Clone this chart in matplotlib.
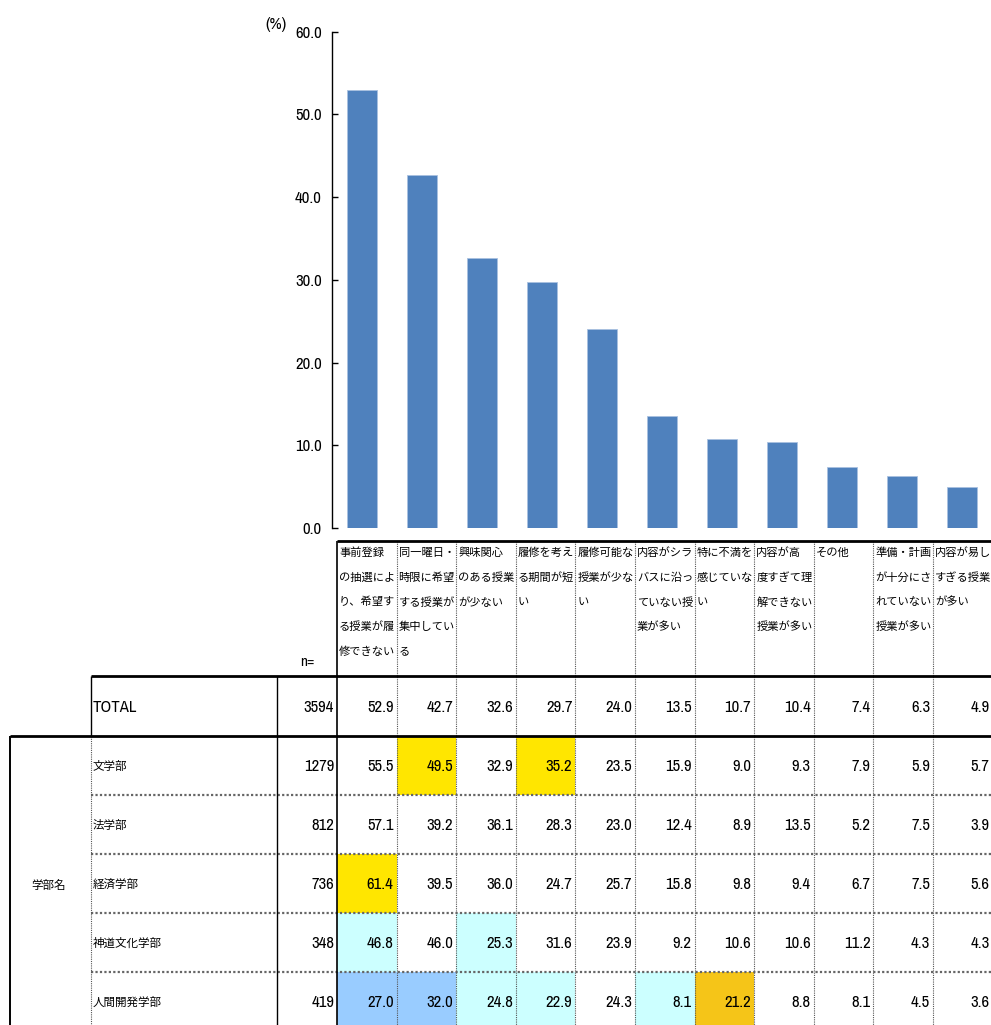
import matplotlib
matplotlib.use('Agg')
import matplotlib.pyplot as plt
import matplotlib.ticker as ticker
from matplotlib.patches import Rectangle

plt.rcParams['font.family'] = ['Archivo Narrow', 'Noto Sans CJK JP']

# header labels (line breaks as in the original sheet)
categories = [
    "事前登録\nの抽選によ\nり、希望す\nる授業が履\n修できない",
    "同一曜日・\n時限に希望\nする授業が\n集中してい\nる",
    "興味関心\nのある授業\nが少ない",
    "履修を考え\nる期間が短\nい",
    "履修可能な\n授業が少な\nい",
    "内容がシラ\nバスに沿っ\nていない授\n業が多い",
    "特に不満を\n感じていな\nい",
    "内容が高\n度すぎて理\n解できない\n授業が多い",
    "その他",
    "準備・計画\nが十分にさ\nれていない\n授業が多い",
    "内容が易し\nすぎる授業\nが多い",
]

total_label = "TOTAL"
total_n = 3594
total_values = [52.9, 42.7, 32.6, 29.7, 24.0, 13.5, 10.7, 10.4, 7.4, 6.3, 4.9]

group_label = "学部名"
faculties = ["文学部", "法学部", "経済学部", "神道文化学部", "人間開発学部"]
faculty_n = [1279, 812, 736, 348, 419]
faculty_values = [
    [55.5, 49.5, 32.9, 35.2, 23.5, 15.9, 9.0, 9.3, 7.9, 5.9, 5.7],
    [57.1, 39.2, 36.1, 28.3, 23.0, 12.4, 8.9, 13.5, 5.2, 7.5, 3.9],
    [61.4, 39.5, 36.0, 24.7, 25.7, 15.8, 9.8, 9.4, 6.7, 7.5, 5.6],
    [46.8, 46.0, 25.3, 31.6, 23.9, 9.2, 10.6, 10.6, 11.2, 4.3, 4.3],
    [27.0, 32.0, 24.8, 22.9, 24.3, 8.1, 21.2, 8.8, 8.1, 4.5, 3.6],
]

# highlighted cells: faculty row index, column index, fill
hl_rows = [0, 0, 2, 3, 3, 4, 4, 4, 4, 4, 4]
hl_cols = [1, 3, 0, 0, 2, 0, 1, 2, 3, 5, 6]
hl_colors = ['#FFE600', '#FFE600', '#FFE600', '#CCFFFF', '#CCFFFF',
             '#99CCFF', '#99CCFF', '#CCFFFF', '#CCFFFF', '#CCFFFF', '#F5C518']

W, H = 991, 1025
fig = plt.figure(figsize=(W / 100, H / 100), dpi=100)

num_size = 12
jp_size = 8.3

# table drawn on a full-figure axes in pixel units
tab = fig.add_axes([0, 0, 1, 1])
tab.set_xlim(0, W)
tab.set_ylim(H, 0)
tab.axis('off')

# bar chart
ax_left, ax_top, ax_bottom = 331.7, 31.7, 528.0
col_w = 60.0
ax = fig.add_axes([ax_left / W, 1 - ax_bottom / H, col_w * len(categories) / W, (ax_bottom - ax_top) / H])
xs = range(len(categories))
ax.bar(xs, total_values, width=0.5, color='#4F81BD', edgecolor='#A9C1E0', linewidth=0.6)
ax.set_xlim(-0.5, len(categories) - 0.5)
ax.set_ylim(0, 60)
ax.set_yticks(range(0, 61, 10))
ax.yaxis.set_major_formatter(ticker.FormatStrFormatter('%0.1f'))
ax.tick_params(axis='y', direction='in', length=4, width=1, pad=7, labelsize=num_size)
ax.set_xticks([])
for s in ['top', 'right', 'bottom']:
    ax.spines[s].set_visible(False)
ax.spines['left'].set_linewidth(1)
ax.patch.set_visible(False)
fig.text(276 / W, 1 - 24 / H, "(%)", ha='center', va='center', fontsize=num_size)

# table geometry (pixels)
x_group, x_label, x_n, x_data = 10, 91, 277, 337
dcol_w = 59.6
y_head_top, y_head_bot = 541, 676
row_edges = [676, 736, 795, 854, 913, 972, 1031]

def col_left(j):
    return x_data + j * dcol_w

# cell fills
for r, c, color in zip(hl_rows, hl_cols, hl_colors):
    y0 = row_edges[r + 1]
    tab.add_patch(Rectangle((col_left(c), y0), dcol_w, row_edges[r + 2] - y0,
                            facecolor=color, edgecolor='none', zorder=0))

dot = (0, (1, 1))
# dotted column separators
for j in range(1, len(categories) + 1):
    tab.vlines(col_left(j), y_head_top, H, colors='#555555', linewidth=0.8, linestyles=dot)
# dotted faculty row separators
for y in row_edges[2:-1]:
    tab.hlines(y, x_label, W, colors='#666666', linewidth=1.6, linestyles=dot)
tab.vlines(x_label, row_edges[1], H, colors='#555555', linewidth=0.8, linestyles=dot)

# solid rules
tab.vlines(x_data, y_head_top, H, colors='black', linewidth=1.2)
tab.vlines(x_n, y_head_bot, H, colors='black', linewidth=1.0)
tab.vlines(x_label, y_head_bot, row_edges[1], colors='black', linewidth=1.0)
tab.vlines(x_group, row_edges[1], H, colors='black', linewidth=1.4)
tab.hlines(y_head_top, x_data, W, colors='black', linewidth=2)
tab.hlines(y_head_bot, x_label, W, colors='black', linewidth=2)
tab.hlines(row_edges[1], x_group, W, colors='black', linewidth=2)

# header text
line_h = 24.6
for j, label in enumerate(categories):
    for k, line in enumerate(label.split("\n")):
        tab.text(col_left(j) + 2, 553 + k * line_h, line, ha='left', va='center', fontsize=8.1)
tab.text(307, 662, "n=", ha='center', va='center', fontsize=11)

# body rows
labels = [total_label] + faculties
ns = [total_n] + faculty_n
values = [total_values] + faculty_values
for i in range(len(labels)):
    yc = (row_edges[i] + row_edges[i + 1]) / 2 + 1
    tab.text(x_label + 2, yc, labels[i], ha='left', va='center',
             fontsize=num_size if i == 0 else jp_size)
    tab.text(x_data - 3, yc, str(ns[i]), ha='right', va='center', fontsize=num_size)
    for j, v in enumerate(values[i]):
        tab.text(col_left(j + 1) - 3, yc, "%0.1f" % v, ha='right', va='center', fontsize=num_size)

tab.text(49, 885, group_label, ha='center', va='center', fontsize=jp_size)

plt.savefig("out.png", dpi=100)
